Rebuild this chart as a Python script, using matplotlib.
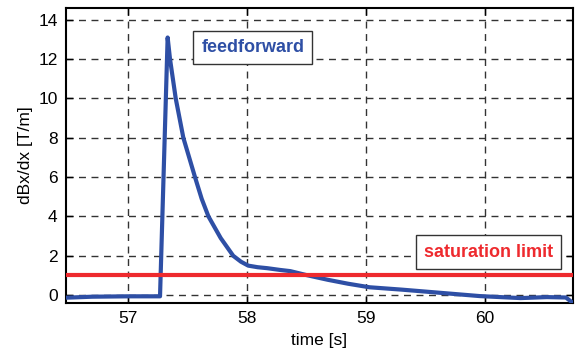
import matplotlib
matplotlib.use("Agg")
import matplotlib.pyplot as plt
import numpy as np

plt.rcParams['font.family'] = ['Liberation Sans', 'DejaVu Sans']

time_s = [56.48, 56.7, 57.0, 57.27, 57.334, 57.354, 57.402, 57.466, 57.564, 57.62,
          57.677, 57.78, 57.885, 57.95, 58.011, 58.09, 58.171, 58.28, 58.365, 58.5,
          58.68, 58.85, 59.03, 59.3, 59.62, 59.96, 60.3, 60.52, 60.68, 60.74]
dbdx = [-0.13, -0.08, -0.06, -0.06, 13.1, 12.0, 10.0, 8.0, 6.0, 4.9,
        4.0, 2.9, 2.0, 1.7, 1.5, 1.42, 1.37, 1.28, 1.22, 1.02,
        0.78, 0.58, 0.4, 0.28, 0.12, -0.05, -0.15, -0.1, -0.12, -0.4]
sat_limit = 1.0
x_ticks = [57, 58, 59, 60]
y_ticks = [0, 2, 4, 6, 8, 10, 12, 14]

fig = plt.figure(figsize=(5.76, 3.5), dpi=100)
ax = fig.add_axes([66/576, 1-303/350, (573-66)/576, (303-8)/350])

ax.plot(time_s, dbdx, color='#2E4FA5', lw=3, zorder=3, solid_joinstyle='round')
ax.axhline(sat_limit, color='#EE2A2E', lw=3, zorder=3)

ax.set_xlim(56.48, 60.74)
ax.set_ylim(-0.4, 14.6)
ax.set_xticks(x_ticks)
ax.set_yticks(y_ticks)
ax.tick_params(direction='in', labelsize=12.5, length=5, width=1, top=True, right=True, pad=6)
ax.grid(True, color='#333333', ls=(0, (5, 4)), lw=1)
for s in ax.spines.values():
    s.set_linewidth(1.5)

ax.set_xlabel('time [s]', fontsize=12.5, labelpad=5)
ax.set_ylabel('dBx/dx [T/m]', fontsize=12.5, labelpad=4)

ax.text(58.05, 12.6, 'feedforward', color='#2E4FA5', fontsize=13, fontweight='bold',
        ha='center', va='center', zorder=5,
        bbox=dict(boxstyle='square,pad=0.45', fc='white', ec='#333333', lw=1))
ax.text(60.03, 2.19, 'saturation limit', color='#EE2A2E', fontsize=13, fontweight='bold',
        ha='center', va='center', zorder=5,
        bbox=dict(boxstyle='square,pad=0.45', fc='white', ec='#333333', lw=1))

fig.savefig('out.png', dpi=100)
